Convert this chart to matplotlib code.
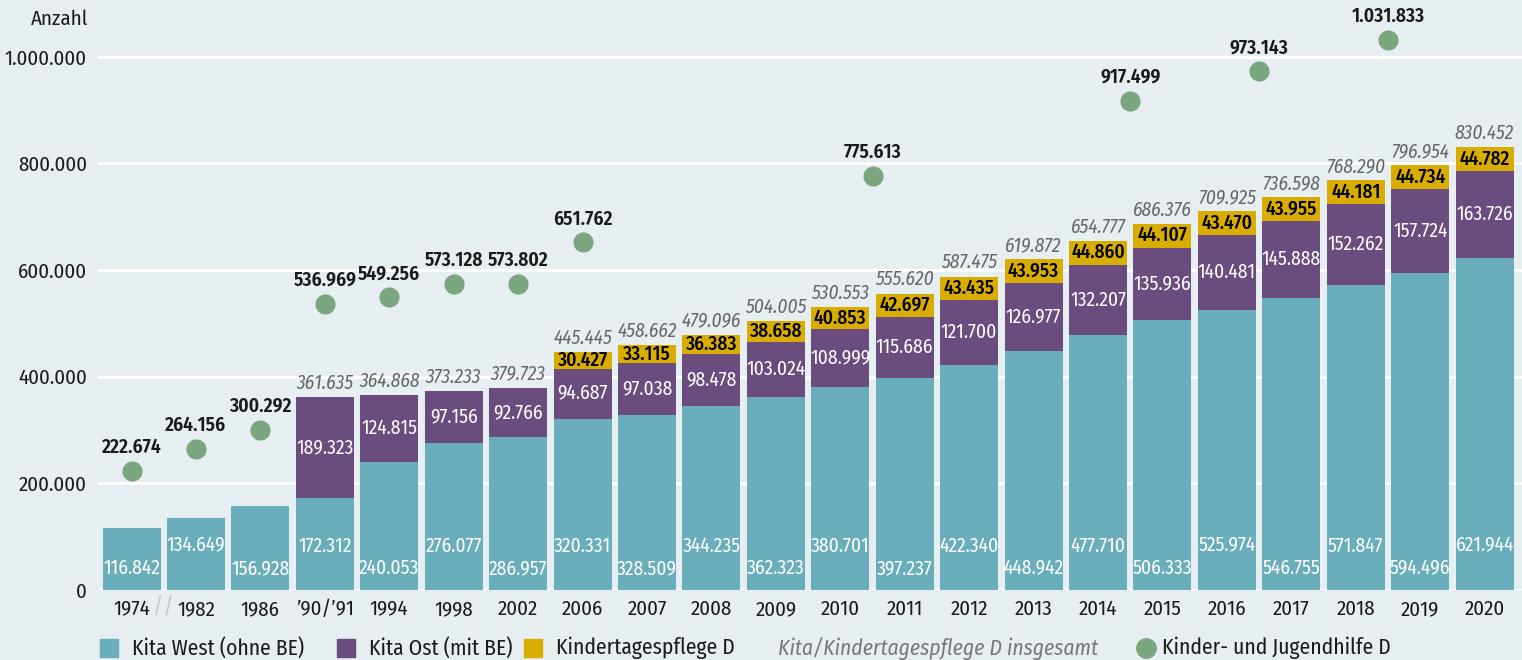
import numpy as np
import matplotlib.pyplot as plt
from matplotlib.patches import Rectangle


def de(v):
    # German thousands separator
    return "{:,}".format(v).replace(",", ".")


# Years on the x axis
years = ['1974', '1982', '1986', '’90/’91', '1994', '1998', '2002', '2006', '2007',
         '2008', '2009', '2010', '2011', '2012', '2013', '2014', '2015', '2016',
         '2017', '2018', '2019', '2020']
# Kita West (ohne BE)
west = [116842, 134649, 156928, 172312, 240053, 276077, 286957, 320331, 328509,
        344235, 362323, 380701, 397237, 422340, 448942, 477710, 506333, 525974,
        546755, 571847, 594496, 621944]
# Kita Ost (mit BE)
ost = [0, 0, 0, 189323, 124815, 97156, 92766, 94687, 97038, 98478, 103024,
       108999, 115686, 121700, 126977, 132207, 135936, 140481, 145888, 152262,
       157724, 163726]
# Kindertagespflege D
pflege = [0, 0, 0, 0, 0, 0, 0, 30427, 33115, 36383, 38658, 40853, 42697, 43435,
          43953, 44860, 44107, 43470, 43955, 44181, 44734, 44782]
# Kita/Kindertagespflege D insgesamt (no value before 1990)
total = [None, None, None, 361635, 364868, 373233, 379723, 445445, 458662, 479096,
         504005, 530553, 555620, 587475, 619872, 654777, 686376, 709925, 736598,
         768290, 796954, 830452]
# Kinder- und Jugendhilfe D (some points sit between two years)
kjh_years = ['1974', '1982', '1986', '’90/’91', '1994', '1998', '2002', '2006',
             '2010/2011', '2014/2015', '2016/2017', '2018/2019']
kjh = [222674, 264156, 300292, 536969, 549256, 573128, 573802, 651762, 775613,
       917499, 973143, 1031833]

c_west = '#6aaebb'
c_ost = '#6a4c7e'
c_pflege = '#d9ad00'
c_kjh = '#7ba67f'
bg = '#e6eef2'
dark = '#1a1a1a'

plt.rcParams['font.family'] = ['Fira Sans Condensed', 'Roboto Condensed', 'Roboto',
                               'DejaVu Sans']

fig = plt.figure(figsize=(15.22, 6.6), dpi=100, facecolor=bg)
ax = fig.add_axes([98 / 1522, 1 - 590 / 660, 1 - 98 / 1522, 570 / 660])
ax.set_facecolor(bg)

x = np.arange(len(years))
w = 0.9
west_a = np.array(west)
ost_a = np.array(ost)
pfl_a = np.array(pflege)

ax.bar(x, west_a, w, color=c_west, zorder=3)
ax.bar(x, ost_a, w, bottom=west_a, color=c_ost, zorder=3)
ax.bar(x, pfl_a, w, bottom=west_a + ost_a, color=c_pflege, zorder=3)

# value labels inside the bars
for i in range(len(years)):
    ylab = 82500 if i % 2 else 41000
    ax.text(x[i], ylab, de(west[i]), ha='center', va='center', color='white',
            fontsize=14, zorder=4)
    if ost[i]:
        ax.text(x[i], west[i] + ost[i] / 2, de(ost[i]), ha='center', va='center',
                color='white', fontsize=14, zorder=4)
    if pflege[i]:
        ax.text(x[i], west[i] + ost[i] + pflege[i] / 2, de(pflege[i]), ha='center',
                va='center', color='black', fontsize=14, fontweight='medium', zorder=4)
    if total[i]:
        ax.annotate(de(total[i]), (x[i], west[i] + ost[i] + pflege[i]),
                    xytext=(0, 3), textcoords='offset points', ha='center',
                    va='bottom', color='#666666', fontsize=14, style='italic')

# Kinder- und Jugendhilfe dots
kx = []
for k in kjh_years:
    parts = k.split('/') if '/' in k and k[0] != '’' else [k]
    kx.append(np.mean([years.index(p) for p in parts]))
ax.scatter(kx, kjh, s=210, color=c_kjh, zorder=5, clip_on=False, linewidths=0)
for xi, v in zip(kx, kjh):
    ax.annotate(de(v), (xi, v), xytext=(0, 10), textcoords='offset points',
                ha='center', va='bottom', fontsize=14, fontweight='semibold',
                color=dark, annotation_clip=False)

# axes styling
ax.set_xlim(-0.52, 21.58)
ax.set_ylim(0, 1069000)
ax.set_yticks(range(0, 1000001, 200000))
ax.set_yticklabels([de(v) for v in range(0, 1000001, 200000)], fontsize=15)
ax.set_xticks(x)
ax.set_xticklabels(years, fontsize=15)
ax.tick_params(length=0, pad=7, colors=dark)
ax.tick_params(axis='y', pad=8)
ax.grid(axis='y', color='white', linewidth=2.2, zorder=0)
for s in ax.spines.values():
    s.set_visible(False)

# axis break mark between 1974 and 1982
ax.text(0.5, -0.03, '//', transform=ax.get_xaxis_transform(), ha='center',
        va='center', color='#c4c8cc', fontsize=16)

fig.text(88 / 1522, 1 - 19 / 660, 'Anzahl', ha='right', va='center', fontsize=15,
         color=dark)

# legend row
ly = 1 - 648 / 660
sq = 18
for x0, col, lab in [(100, c_west, 'Kita West (ohne BE)'),
                     (337, c_ost, 'Kita Ost (mit BE)'),
                     (524, c_pflege, 'Kindertagespflege D')]:
    fig.add_artist(Rectangle((x0 / 1522, ly - sq / 2 / 660), sq / 1522, sq / 660,
                             transform=fig.transFigure, color=col))
    fig.text((x0 + 32) / 1522, ly, lab, ha='left', va='center', fontsize=15.5,
             color=dark)
fig.text(778 / 1522, ly, 'Kita/Kindertagespflege D insgesamt', ha='left',
         va='center', fontsize=15.5, color='#777777', style='italic')
fig.add_artist(plt.Line2D([1146 / 1522], [ly], marker='o', markersize=14,
                          color=c_kjh, transform=fig.transFigure))
fig.text(1162 / 1522, ly, 'Kinder- und Jugendhilfe D', ha='left', va='center',
         fontsize=15.5, color=dark)

fig.savefig('out.png', dpi=100, facecolor=bg)
